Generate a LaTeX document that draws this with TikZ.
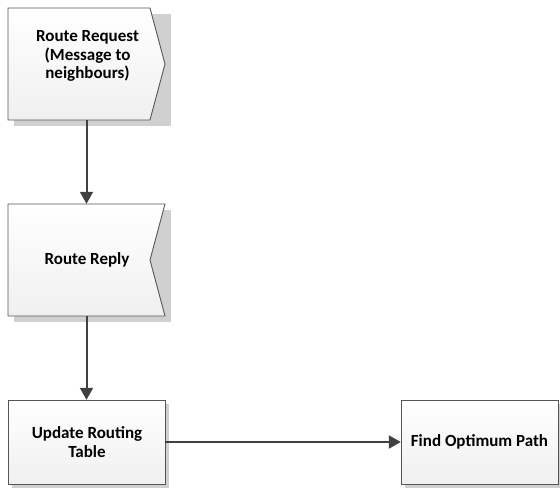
\documentclass[tikz,border=0pt]{standalone}
\usepackage{fontspec}
\setmainfont{Carlito}
\usetikzlibrary{arrows.meta,shadings}
\definecolor{edge}{HTML}{555555}
\definecolor{shade}{HTML}{D0D0D0}
\definecolor{arr}{HTML}{404040}
\tikzset{
  boxtext/.style={inner sep=0pt, align=center, font=\fontsize{17}{18.5}\selectfont\bfseries, text=black},
  boxbody/.style={draw=edge, line width=0.9pt, top color=white, bottom color=gray!12},
  boxshadow/.style={fill=shade, draw=none},
  conn/.style={draw=arr, line width=2pt, -{Triangle[length=12pt,width=13pt]}},
  anchorbox/.style={draw=none, minimum width=157pt, minimum height=112pt, inner sep=0pt},
  anchorsmall/.style={draw=none, minimum width=157pt, minimum height=84pt, inner sep=0pt}
}
\begin{document}
\begin{tikzpicture}[x=1pt,y=-1pt]
\useasboundingbox (0,0) rectangle (560,488);
% anchor nodes
\node[anchorbox] (rr) at (86.5,64) {};
\node[anchorbox] (rp) at (86.5,260) {};
\node[anchorsmall] (ut) at (86.5,442) {};
\node[anchorsmall] (fo) at (479.5,442) {};
% shadows
\fill[boxshadow] (14,14) rectangle (171,126);
\fill[boxshadow] (14,210) rectangle (171,322);
\fill[boxshadow] (12,404) rectangle (169,488);
\fill[boxshadow] (405,404) rectangle (562,488);
% bodies
\path[boxbody] (8,8) -- (150,8) -- (165,64) -- (150,120) -- (8,120) -- cycle;
\path[boxbody] (8,204) -- (165,204) -- (150,260) -- (165,316) -- (8,316) -- cycle;
\path[boxbody] (8,400) rectangle (165,484);
\path[boxbody] (401,400) rectangle (558,484);
% texts
\node[boxtext] (rrt) at (87.5,56) {Route Request\\(Message to\\neighbours)};
\node[boxtext] (rpt) at (87,260) {Route Reply};
\node[boxtext] (utt) at (87,442) {Update Routing\\Table};
\node[boxtext] (fot) at (479.5,442) {Find Optimum Path};
% connectors
\draw[conn] (rr.south) -- (rp.north);
\draw[conn] (rp.south) -- (ut.north);
\draw[conn] (ut.east) -- (fo.west);
\end{tikzpicture}
\end{document}
